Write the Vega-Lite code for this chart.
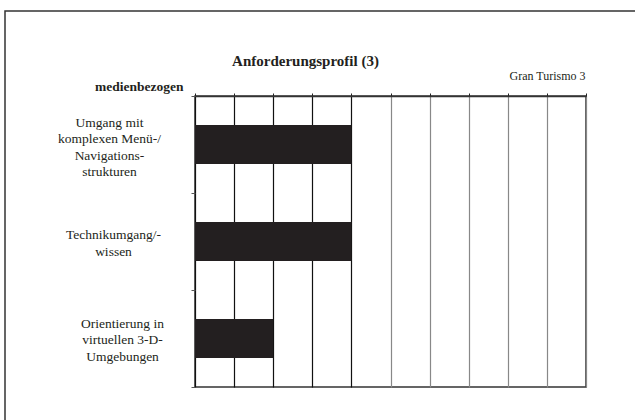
{
  "$schema": "https://vega.github.io/schema/vega-lite/v6.json",
  "width": 391,
  "height": 291,
  "autosize": {"type": "none"},
  "padding": {"left": 195, "top": 96, "right": 49, "bottom": 33},
  "background": "white",
  "title": {
    "text": "Anforderungsprofil (3)",
    "font": "Liberation Serif",
    "fontSize": 15,
    "fontWeight": "bold",
    "color": "#231f20",
    "anchor": "middle",
    "frame": "group",
    "dx": -85,
    "dy": 63
  },
  "config": {
    "view": {"stroke": "#333", "strokeWidth": 1.5},
    "font": "Liberation Serif"
  },
  "layer": [
    {
      "data": {"values": [{}]},
      "mark": {"type": "rect", "fillOpacity": 0, "stroke": "#333", "strokeWidth": 1.5},
      "encoding": {
        "x": {"value": -190},
        "x2": {"value": 470},
        "y": {"value": -85},
        "y2": {"value": 350}
      }
    },
    {
      "data": {
        "values": [
          {"Anforderung": "Umgang mit|komplexen Menü-/|Navigations-|strukturen", "Wert": 4},
          {"Anforderung": "Technikumgang/-|wissen", "Wert": 4},
          {"Anforderung": "Orientierung in|virtuellen 3-D-|Umgebungen", "Wert": 2}
        ]
      },
      "mark": {"type": "bar", "color": "#231f20", "height": {"band": 0.4}},
      "encoding": {
        "y": {
          "field": "Anforderung",
          "type": "nominal",
          "sort": null,
          "scale": {"paddingInner": 0, "paddingOuter": 0},
          "axis": {
            "title": "medienbezogen",
            "titleAngle": 0,
            "titleX": -12,
            "titleY": -6,
            "titleAlign": "right",
            "titleBaseline": "alphabetic",
            "titleFont": "Liberation Serif",
            "titleFontSize": 13.5,
            "titleFontWeight": "bold",
            "titleColor": "#231f20",
            "labelExpr": "split(datum.label, '|')",
            "labelAlign": "center",
            "labelBaseline": "middle",
            "labelPadding": {
              "condition": [
                {"test": "indexof(datum.label, 'Umgang mit') == 0", "value": 82},
                {"test": "indexof(datum.label, 'Technik') == 0", "value": 78}
              ],
              "value": 69
            },
            "labelOffset": {
              "condition": [
                {"test": "indexof(datum.label, 'Umgang mit') == 0", "value": -22.5},
                {"test": "indexof(datum.label, 'Technik') == 0", "value": -7}
              ],
              "value": -15.5
            },
            "labelFont": "Liberation Serif",
            "labelFontSize": 13.5,
            "labelLineHeight": 16.5,
            "labelColor": "#231f20",
            "labelLimit": 0,
            "tickBand": "extent",
            "tickSize": 4,
            "tickColor": "#555",
            "domain": false,
            "grid": false
          }
        },
        "x": {
          "field": "Wert",
          "type": "quantitative",
          "scale": {"domain": [0, 10], "nice": false},
          "axis": {
            "orient": "top",
            "title": "Gran Turismo 3",
            "titleX": 390,
            "titleY": -17,
            "titleAlign": "right",
            "titleBaseline": "alphabetic",
            "titleFont": "Liberation Serif",
            "titleFontSize": 12,
            "titleFontWeight": "normal",
            "titleColor": "#231f20",
            "labels": false,
            "values": [0, 1, 2, 3, 4, 5, 6, 7, 8, 9, 10],
            "tickSize": 3,
            "tickColor": "#222",
            "domainColor": "#333",
            "domainWidth": 1.5,
            "grid": true,
            "gridWidth": 1.2,
            "gridOpacity": 1,
            "gridColor": {"condition": {"test": "datum.value < 5", "value": "#111"}, "value": "#888"}
          }
        }
      }
    }
  ]
}
